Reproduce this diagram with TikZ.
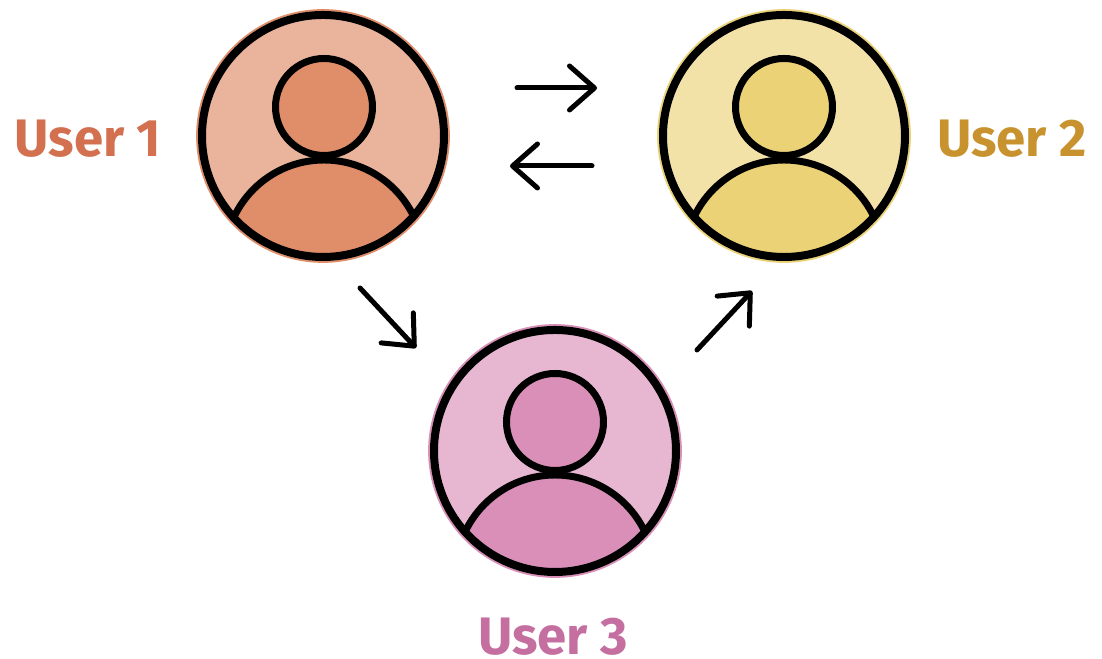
\documentclass[tikz,border=0pt]{standalone}
\usepackage{fontspec}
\setsansfont{Fira Sans}
\usetikzlibrary{positioning}
\usetikzlibrary{arrows.meta}
\definecolor{lightone}{HTML}{EAB39B}
\definecolor{darkone}{HTML}{E08D69}
\definecolor{lighttwo}{HTML}{F3E2A8}
\definecolor{darktwo}{HTML}{ECD277}
\definecolor{lightthree}{HTML}{E7B6D0}
\definecolor{darkthree}{HTML}{D98FB7}
\definecolor{textone}{HTML}{D2704F}
\definecolor{texttwo}{HTML}{C8922E}
\definecolor{textthree}{HTML}{C46FA0}
\tikzset{
  usercircle/.style={circle,inner sep=0pt,minimum size=2.52cm,line width=0.5pt},
  userhead/.style={circle,draw=black,inner sep=0pt,minimum size=0.97cm,line width=0.07cm},
  userline/.style={draw=black,line width=0.07cm},
  useroutline/.style={draw=black,line width=0.08cm},
  userlabel/.style={font=\sffamily\bfseries\fontsize{15}{18}\selectfont},
  flowarrow/.style={line width=0.05cm,line cap=round,-{Straight Barb[length=2.5mm,width=4.4mm,round]}}
}
\begin{document}
\begin{tikzpicture}
\useasboundingbox (0,0) rectangle (11.02,6.59);
\node[usercircle,fill=lightone,draw=darkone] (user1) at (3.23,5.23) {};
\node[userhead,fill=darkone] (head1) at (3.24,5.52) {};
\begin{scope}
\clip (user1) circle (1.21);
\draw[userline,fill=darkone] (3.24,3.995) circle (0.995);
\end{scope}
\draw[useroutline] (user1) circle (1.21);
\node[userlabel,textone] (label1) at (0.88,5.20) {User 1};
%%%%%%%%%%%%%%%%%%%%%%%%%%%%%%%%%
\node[usercircle,fill=lighttwo,draw=darktwo] (user2) at (7.84,5.23) {};
\node[userhead,fill=darktwo] (head2) at (7.84,5.52) {};
\begin{scope}
\clip (user2) circle (1.21);
\draw[userline,fill=darktwo] (7.84,3.995) circle (0.995);
\end{scope}
\draw[useroutline] (user2) circle (1.21);
\node[userlabel,texttwo] (label2) at (10.12,5.20) {User 2};
%%%%%%%%%%%%%%%%%%%%%%%%%%%%%%%%%
\node[usercircle,fill=lightthree,draw=darkthree] (user3) at (5.55,2.08) {};
\node[userhead,fill=darkthree] (head3) at (5.55,2.37) {};
\begin{scope}
\clip (user3) circle (1.21);
\draw[userline,fill=darkthree] (5.55,0.845) circle (0.995);
\end{scope}
\draw[useroutline] (user3) circle (1.21);
\node[userlabel,textthree] (label3) at (5.53,0.22) {User 3};
%%%%%%%%%%%%%%%%%%%%%%%%%%%%%%%%%
\coordinate (ab) at (5.17,5.71);
\coordinate (bb) at (5.97,5.71);
\coordinate (ba) at (5.92,4.93);
\coordinate (aa) at (5.10,4.93);
\coordinate (ac) at (3.60,3.71);
\coordinate (ca) at (4.16,3.11);
\coordinate (cb) at (6.97,3.09);
\coordinate (bc) at (7.52,3.68);
\draw[flowarrow] (ab) -- (bb);
\draw[flowarrow] (ba) -- (aa);
\draw[flowarrow] (ac) -- (ca);
\draw[flowarrow] (cb) -- (bc);
\end{tikzpicture}
\end{document}
